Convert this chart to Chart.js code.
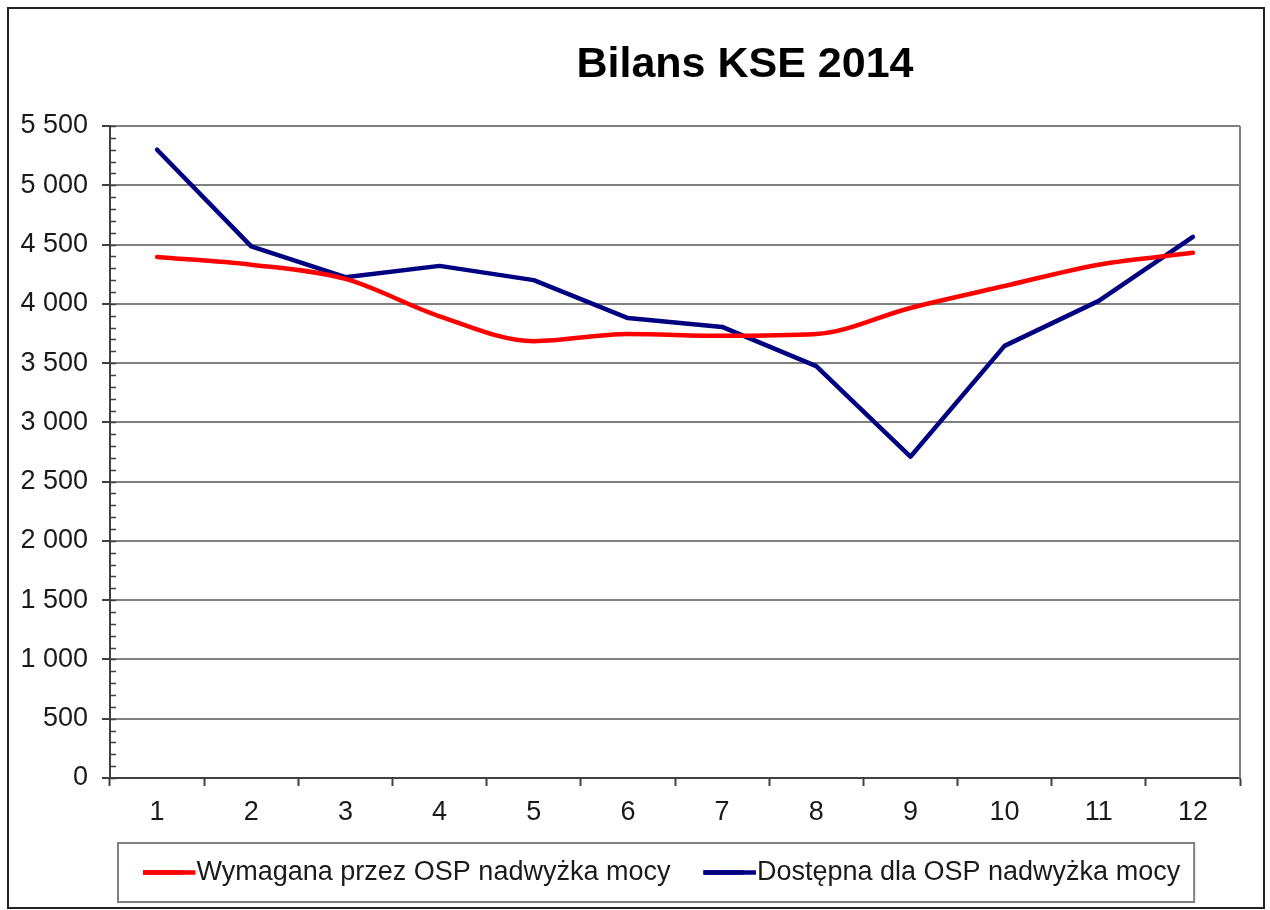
<!DOCTYPE html>
<html>
<head>
<meta charset="utf-8">
<script src="https://cdn.jsdelivr.net/npm/chart.js@4"></script>
<style>
  html, body { margin: 0; padding: 0; background: #fff; }
  #frame {
    position: absolute; left: 7px; top: 7px;
    width: 1254px; height: 898px;
    border: 2px solid #222;
  }
  canvas { display: block; }
</style>
</head>
<body>
<div id="frame"><canvas id="chart" width="1254" height="898"></canvas></div>
<script>
const months = ['1', '2', '3', '4', '5', '6', '7', '8', '9', '10', '11', '12'];
const requiredSurplus = [4395, 4330, 4210, 3895, 3685, 3745, 3730, 3745, 3965, 4150, 4330, 4430];
const availableSurplus = [5300, 4485, 4225, 4320, 4200, 3880, 3805, 3475, 2710, 3645, 4025, 4565];
const yMin = 0;
const yMax = 5500;
const yStep = 500;
const yMinorStep = 100;

const FONT = 'Arial, "Liberation Sans", sans-serif';
const LEGEND_FONT = 27;
const LEGEND_LINE = 40;

function spaced(v) {
  return String(v).replace(/\B(?=(\d{3})+(?!\d))/g, ' ');
}

// title, right border, minor ticks and legend frame
const decorations = {
  id: 'decorations',
  afterDraw(chart) {
    const ctx = chart.ctx;
    const area = chart.chartArea;
    const y = chart.scales.y;
    ctx.save();

    ctx.strokeStyle = '#808080';
    ctx.lineWidth = 2;
    ctx.beginPath();
    ctx.moveTo(area.right, area.top);
    ctx.lineTo(area.right, area.bottom);
    ctx.stroke();

    ctx.strokeStyle = '#404040';
    ctx.lineWidth = 1.5;
    ctx.beginPath();
    for (let v = yMin; v <= yMax; v += yMinorStep) {
      const py = Math.round(y.getPixelForValue(v)) + 0.5;
      ctx.moveTo(area.left, py);
      ctx.lineTo(area.left + 6, py);
    }
    ctx.stroke();

    ctx.fillStyle = '#000';
    ctx.font = 'bold 43px ' + FONT;
    ctx.textAlign = 'center';
    ctx.textBaseline = 'alphabetic';
    ctx.fillText('Bilans KSE 2014', 736, 68);

    const boxes = chart.legend.legendHitBoxes;
    const items = chart.legend.legendItems;
    if (boxes && boxes.length) {
      // legend sample lines run right up to the text
      boxes.forEach((b, i) => {
        const cy = b.top + b.height / 2;
        ctx.strokeStyle = items[i].strokeStyle;
        ctx.lineWidth = 4.5;
        ctx.beginPath();
        ctx.moveTo(b.left, cy);
        ctx.lineTo(b.left + LEGEND_LINE + LEGEND_FONT / 2 - 1, cy);
        ctx.stroke();
      });
      const left = Math.min(...boxes.map(b => b.left)) - 25;
      const right = Math.max(...boxes.map(b => b.left + b.width)) + 14;
      const cy = boxes[0].top + boxes[0].height / 2;
      ctx.strokeStyle = '#808080';
      ctx.lineWidth = 2;
      ctx.strokeRect(left, cy - 29.5, right - left, 59);
    }
    ctx.restore();
  }
};

new Chart(document.getElementById('chart'), {
  type: 'line',
  data: {
    labels: months,
    datasets: [
      {
        label: 'Wymagana przez OSP nadwyżka mocy',
        data: requiredSurplus,
        borderColor: '#ff0000',
        backgroundColor: '#ff0000',
        borderWidth: 4.5,
        pointRadius: 0,
        cubicInterpolationMode: 'monotone',
        borderJoinStyle: 'round',
        borderCapStyle: 'round'
      },
      {
        label: 'Dostępna dla OSP nadwyżka mocy',
        data: availableSurplus,
        borderColor: '#000080',
        backgroundColor: '#000080',
        borderWidth: 4.5,
        pointRadius: 0,
        tension: 0,
        borderJoinStyle: 'round',
        borderCapStyle: 'round'
      }
    ]
  },
  options: {
    responsive: false,
    animation: false,
    layout: {
      padding: { top: 117, right: 23, left: 0, bottom: 11 }
    },
    scales: {
      x: {
        offset: true,
        grid: {
          offset: true,
          drawOnChartArea: false,
          drawTicks: true,
          tickLength: 8,
          tickColor: '#404040',
          tickWidth: 2
        },
        border: { color: '#404040', width: 2 },
        ticks: {
          color: '#1a1a1a',
          padding: 10,
          font: { family: FONT, size: 27 }
        },
        afterFit(scale) { scale.height = 48; }
      },
      y: {
        min: yMin,
        max: yMax,
        grid: {
          color: '#808080',
          lineWidth: 2,
          tickLength: 8,
          tickColor: '#404040',
          tickWidth: 2
        },
        border: { color: '#404040', width: 2 },
        ticks: {
          stepSize: yStep,
          color: '#1a1a1a',
          padding: 14,
          font: { family: FONT, size: 27 },
          callback: v => spaced(v)
        },
        afterFit(scale) { scale.width = 101; }
      }
    },
    plugins: {
      title: { display: false },
      tooltip: { enabled: false },
      legend: {
        display: true,
        position: 'bottom',
        fullSize: false,
        align: 'start',
        labels: {
          usePointStyle: true,
          pointStyle: 'line',
          pointStyleWidth: LEGEND_LINE,
          padding: 33,
          color: '#1a1a1a',
          font: { family: FONT, size: LEGEND_FONT }
        }
      }
    }
  },
  plugins: [decorations]
});
</script>
</body>
</html>
